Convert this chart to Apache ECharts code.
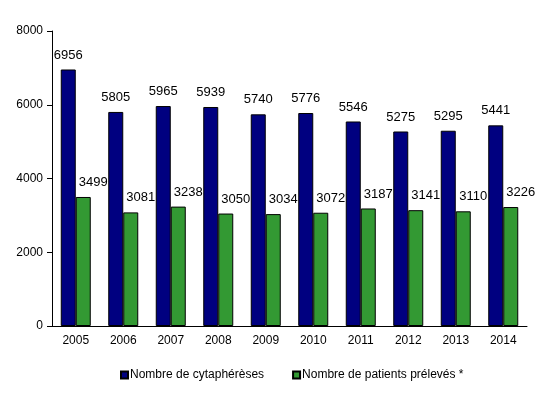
<!DOCTYPE html>
<html>
<head>
<meta charset="utf-8">
<script src="https://cdn.jsdelivr.net/npm/echarts@6/dist/echarts.min.js"></script>
<style>
  html, body { margin: 0; padding: 0; background: #fff; }
  #chart { width: 541px; height: 398px; }
</style>
</head>
<body>
<div id="chart"></div>
<script>
const years = ["2005", "2006", "2007", "2008", "2009", "2010", "2011", "2012", "2013", "2014"];
const cytaphereses = [6956, 5805, 5965, 5939, 5740, 5776, 5546, 5275, 5295, 5441];
const patients = [3499, 3081, 3238, 3050, 3034, 3072, 3187, 3141, 3110, 3226];

const chart = echarts.init(document.getElementById("chart"));
const font = "Liberation Sans, Arial, sans-serif";
const label = {
  show: true,
  position: "top",
  color: "#000",
  fontFamily: font,
  fontSize: 13,
  distance: 8,
};
const option = {
  animation: false,
  textStyle: { fontFamily: font },
  grid: { left: 52, right: 14, top: 31, bottom: 72 },
  legend: {
    left: 115,
    bottom: 12,
    itemWidth: 7,
    itemHeight: 7,
    itemGap: 28,
    icon: "rect",
    textStyle: { color: "#000", fontSize: 12, fontFamily: font, padding: [0, 0, 0, -3] },
    data: ["Nombre de cytaphérèses", "Nombre de patients prélevés *"],
  },
  xAxis: {
    type: "category",
    data: years,
    axisLine: { lineStyle: { color: "#000", width: 1 } },
    axisTick: { show: false },
    axisLabel: { color: "#000", fontSize: 12, margin: 9 },
  },
  yAxis: {
    type: "value",
    min: 0,
    max: 8000,
    interval: 2000,
    axisLine: { show: true, lineStyle: { color: "#000" } },
    axisTick: { show: true, length: 5, inside: false, lineStyle: { color: "#000" } },
    splitLine: { show: false },
    axisLabel: { color: "#000", fontSize: 12, margin: 9, formatter: (v) => String(v) },
  },
  series: [
    {
      name: "Nombre de cytaphérèses",
      type: "bar",
      data: cytaphereses,
      barWidth: 15,
      barGap: "0%",
      itemStyle: { color: "#000080", borderColor: "#000", borderWidth: 1 },
      label: label,
    },
    {
      name: "Nombre de patients prélevés *",
      type: "bar",
      data: patients,
      barWidth: 15,
      barGap: "0%",
      itemStyle: { color: "#339933", borderColor: "#000", borderWidth: 1 },
      label: Object.assign({}, label, { offset: [10, 0] }),
    },
  ],
};
chart.setOption(option);
window.addEventListener("resize", chart.resize);
</script>
</body>
</html>
